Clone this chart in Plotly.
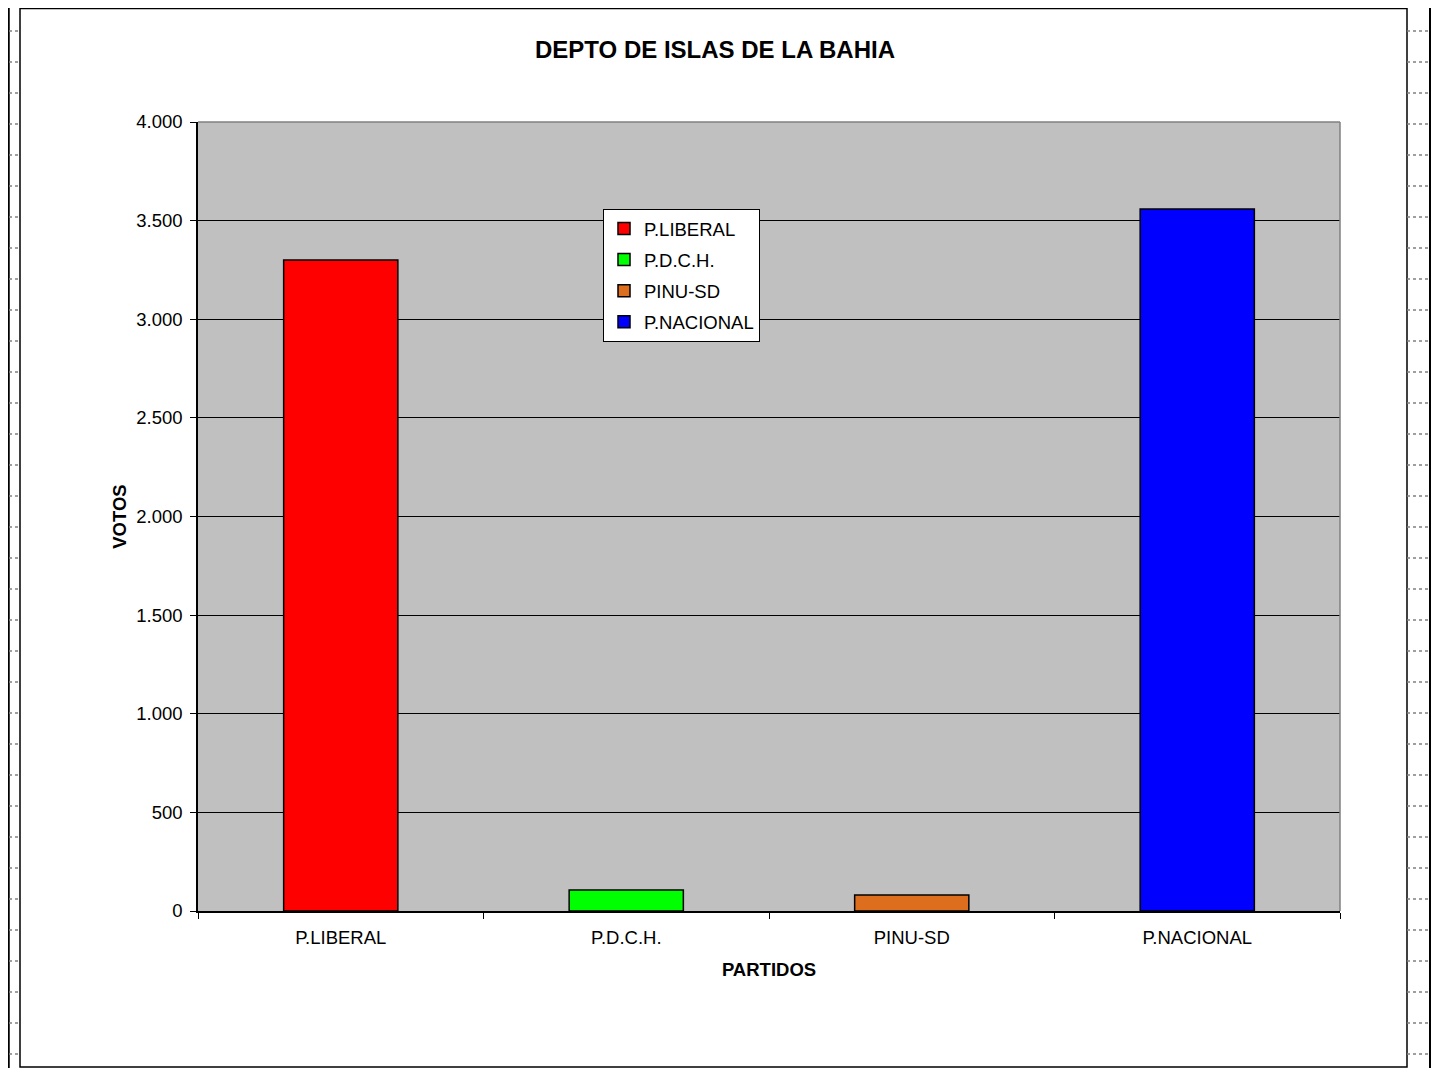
import plotly.graph_objects as go

categories = ["P.LIBERAL", "P.D.C.H.", "PINU-SD", "P.NACIONAL"]
votes = [3300, 106, 81, 3559]
colors = ["#FF0000", "#00FF00", "#DD6E1E", "#0000FF"]
y_ticks = [0, 500, 1000, 1500, 2000, 2500, 3000, 3500, 4000]

W, H = 1431, 1060
L, R, T, B = 190, 99, 114, 157
PW, PH = W - L - R, H - T - B

def px(x):  # figure pixel x -> paper
    return (x - L) / PW

def py(y):  # figure pixel y -> paper
    return (H - B - y) / PH

fig = go.Figure()
for cat, v, c in zip(categories, votes, colors):
    fig.add_trace(go.Bar(
        x=[cat], y=[v], name=cat, width=0.4, legendgroup=cat,
        marker=dict(color=c, line=dict(color="#000000", width=1.5)),
    ))

FS = 18.5
fig.update_layout(
    width=W, height=H,
    margin=dict(l=L, r=R, t=T, b=B),
    paper_bgcolor="#FFFFFF", plot_bgcolor="#C0C0C0",
    barmode="overlay", separators=",.",
    font=dict(family="Arial, Liberation Sans, sans-serif", size=FS, color="#000000"),
    title=dict(text="<b>DEPTO DE ISLAS DE LA BAHIA</b>", xref="container",
               x=(715 - 8) / W, xanchor="center",
               y=1 - (50 - 8) / H, yanchor="middle", font=dict(size=24)),
    legend=dict(x=px(603 - 8), y=py(209 - 8), xanchor="left", yanchor="top",
                bgcolor="#FFFFFF", bordercolor="#000000", borderwidth=1,
                font=dict(size=FS), itemwidth=30, tracegroupgap=4),
    showlegend=True,
)
fig.update_xaxes(
    categoryorder="array", categoryarray=categories,
    showline=True, linecolor="#000000", linewidth=1.5, mirror=False,
    ticks="outside", ticklen=6, tickcolor="#000000", tickson="boundaries",
    ticklabelstandoff=9,
    showgrid=False,
    title=dict(text="<b>PARTIDOS</b>", font=dict(size=FS), standoff=16),
    tickfont=dict(size=FS),
)
fig.update_yaxes(
    range=[0, 4000], tickvals=y_ticks, tickformat=",d",
    showline=True, linecolor="#000000", linewidth=1.5,
    ticks="outside", ticklen=6, tickcolor="#000000",
    ticklabelstandoff=4,
    showgrid=True, gridcolor="#000000", gridwidth=1,
    zeroline=False,
    title=dict(text="<b>VOTOS</b>", font=dict(size=FS), standoff=5),
    tickfont=dict(size=FS),
)
# plot area right/top border (gray)
fig.add_shape(type="line", xref="paper", yref="paper", x0=1, x1=1, y0=0, y1=1,
              line=dict(color="#808080", width=1.5))
fig.add_shape(type="line", xref="paper", yref="paper", x0=0, x1=1, y0=1, y1=1,
              line=dict(color="#808080", width=1.5))
# chart area frame
fig.add_shape(type="rect", xref="paper", yref="paper",
              x0=px(20 - 8), x1=px(1407 - 8), y0=py(1067 - 8), y1=py(0.5),
              line=dict(color="#000000", width=1.5), layer="below")
for xx, w in ((0.5, 2.5), (1430 - 8, 2)):
    fig.add_shape(type="line", xref="paper", yref="paper", x0=px(xx), x1=px(xx),
                  y0=py(H), y1=py(0), line=dict(color="#000000", width=w))
# page-edge strip marks
yy = 31 - 8
while yy < H:
    for a, b in ((1, 20 - 8), (1407 - 8, 1430 - 8)):
        fig.add_shape(type="line", xref="paper", yref="paper", x0=px(a), x1=px(b),
                      y0=py(yy), y1=py(yy),
                      line=dict(color="#808080", width=1.5, dash="dot"))
    yy += 31

fig.write_html("out.html")
